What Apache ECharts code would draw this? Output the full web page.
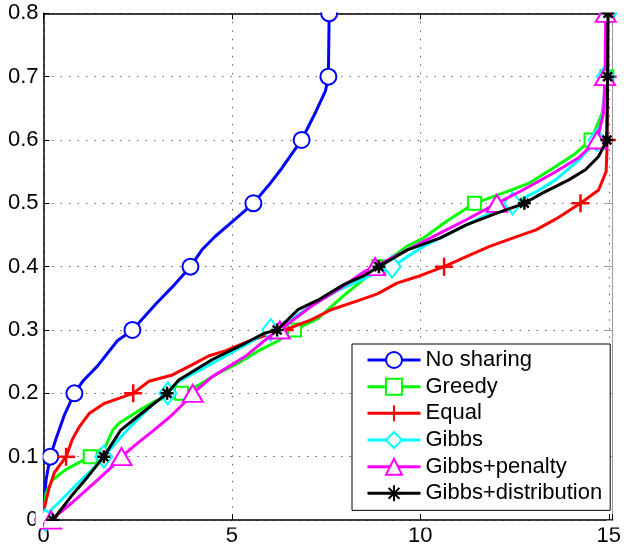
<!DOCTYPE html>
<html><head><meta charset="utf-8">
<script src="https://cdn.jsdelivr.net/npm/echarts@6/dist/echarts.min.js"></script>
<style>html,body{margin:0;padding:0;background:#fff}#c{width:624px;height:554px}</style>
</head><body><div id="c"></div>
<script>
// y levels where markers are drawn
const levels = [0, 0.1, 0.2, 0.3, 0.4, 0.5, 0.6, 0.7, 0.8];
const xTicks = [0, 5, 10, 15];

// No sharing
const noSharingMarks = [0.0, 0.18, 0.82, 2.36, 3.90, 5.57, 6.85, 7.56, 7.58];
const noSharingPath = [[0.02,0.032],[0.07,0.064],[0.33,0.128],[0.55,0.165],[1.04,0.219],[1.43,0.243],[1.96,0.283],[2.98,0.341],[3.42,0.368],[4.21,0.427],[4.56,0.448],[5.09,0.475],[5.97,0.528],[6.32,0.555],[7.23,0.645],[7.48,0.677]];

// Greedy
const greedyMarks = [0.0, 1.24, 3.66, 6.66, 8.9, 11.44, 14.53, 14.95, 14.97];
const greedyPath = [[0.02,0.02],[0.07,0.043],[0.25,0.064],[0.6,0.08],[0.95,0.091],[1.65,0.117],[1.84,0.142],[2.01,0.153],[2.54,0.173],[2.98,0.188],[3.25,0.193],[4.12,0.213],[4.56,0.229],[5.18,0.248],[5.70,0.267],[6.23,0.283],[7.28,0.318],[7.98,0.355],[8.5,0.38],[9.64,0.432],[10.08,0.445],[10.61,0.468],[10.96,0.482],[12.28,0.518],[12.89,0.532],[13.51,0.555],[14.1,0.578],[14.82,0.642],[14.91,0.679]];

// Equal
const equalMarks = [0.0, 0.60, 2.38, 6.40, 10.63, 14.25, 14.95, 14.97, 14.97];
const equalPath = [[0.03,0.021],[0.16,0.053],[0.29,0.075],[0.77,0.128],[0.95,0.147],[1.21,0.168],[1.61,0.184],[2.0,0.192],[2.8,0.219],[3.42,0.229],[3.94,0.245],[4.38,0.259],[4.82,0.267],[5.35,0.28],[5.88,0.291],[7.10,0.316],[7.63,0.332],[8.33,0.346],[8.86,0.357],[9.38,0.374],[9.91,0.384],[11.22,0.416],[11.84,0.432],[12.54,0.447],[13.07,0.458],[13.59,0.475],[14.73,0.521],[14.93,0.55],[14.95,0.58]];

// Gibbs
const gibbsMarks = [0.05, 1.60, 3.30, 6.03, 9.25, 12.45, 14.69, 14.91, 14.98];
const gibbsPath = [[0.12,0.011],[0.38,0.026],[0.91,0.058],[1.3,0.08],[2.14,0.137],[2.57,0.163],[2.93,0.184],[3.59,0.219],[4.47,0.247],[5.35,0.276],[5.85,0.294],[6.6,0.318],[7.10,0.338],[7.80,0.362],[8.51,0.381],[8.8,0.39],[10.08,0.432],[10.96,0.458],[11.84,0.484],[13.07,0.518],[13.59,0.537],[14.2,0.568],[14.86,0.647]];

// Gibbs+penalty
const penaltyMarks = [0.2, 2.07, 3.96, 6.27, 8.8, 12.03, 14.69, 14.9, 14.92];
const penaltyPath = [[0.73,0.026],[1.43,0.063],[1.87,0.087],[2.49,0.121],[2.93,0.142],[3.36,0.163],[3.72,0.184],[4.47,0.226],[5.35,0.258],[5.96,0.288],[7.10,0.337],[7.80,0.363],[8.51,0.392],[9.64,0.426],[10.52,0.453],[11.22,0.474],[12.72,0.521],[13.51,0.547],[14.2,0.572],[14.86,0.642]];

// Gibbs+distribution
const distMarks = [0.25, 1.60, 3.28, 6.2, 8.9, 12.76, 14.95, 14.97, 14.98];
const distPath = [[0.73,0.037],[1.17,0.068],[2.05,0.142],[2.49,0.163],[2.93,0.184],[3.59,0.221],[4.47,0.253],[5.35,0.279],[5.87,0.295],[6.75,0.332],[7.28,0.347],[7.98,0.372],[8.51,0.386],[9.64,0.426],[10.52,0.445],[11.22,0.466],[12.01,0.484],[13.24,0.516],[13.94,0.537],[14.38,0.553],[14.73,0.574],[14.91,0.595]];

function build(marks, path) {
  const pts = marks.map((x, i) => ({ v: [x, levels[i]], m: true }));
  path.forEach(p => pts.push({ v: p, m: false }));
  pts.sort((a, b) => (a.v[1] - b.v[1]) || (a.v[0] - b.v[0]));
  return pts.map(p => p.m ? { value: p.v } : { value: p.v, symbol: 'none' });
}

const PLUS = 'path://M5,0L5,10M0,5L10,5';
const STAR = 'path://M5,0L5,10M0,5L10,5M1.6,1.6L8.4,8.4M8.4,1.6L1.6,8.4';

const defs = [
  { name: 'No sharing', marks: noSharingMarks, path: noSharingPath, color: '#0000ff', symbol: 'emptyCircle', size: 16 },
  { name: 'Greedy', marks: greedyMarks, path: greedyPath, color: '#00ff00', symbol: 'emptyRect', size: 13 },
  { name: 'Equal', marks: equalMarks, path: equalPath, color: '#ff0000', symbol: PLUS, size: 18 },
  { name: 'Gibbs', marks: gibbsMarks, path: gibbsPath, color: '#00ffff', symbol: 'emptyDiamond', size: [17, 22] },
  { name: 'Gibbs+penalty', marks: penaltyMarks, path: penaltyPath, color: '#ff00ff', symbol: 'emptyTriangle', size: [20, 17] },
  { name: 'Gibbs+distribution', marks: distMarks, path: distPath, color: '#000000', symbol: STAR, size: 13 }
];

const series = defs.map((d, i) => ({
  type: 'line',
  name: d.name,
  data: build(d.marks, d.path),
  symbol: d.symbol,
  symbolSize: d.size,
  showSymbol: true,
  showAllSymbol: true,
  clip: true,
  lineStyle: { color: d.color, width: 3 },
  itemStyle: { color: d.color, borderColor: d.color, borderWidth: 2.5 },
  emphasis: { disabled: true },
  z: 2 + i
}));

const FONT = 'Liberation Sans, Arial, Helvetica, sans-serif';
const chart = echarts.init(document.getElementById('c'), null, { renderer: 'canvas' });
chart.setOption({
  animation: false,
  backgroundColor: '#fff',
  grid: { left: 43.5, top: 13.3, right: 6.9, bottom: 34, containLabel: false },
  xAxis: [{
    type: 'value', min: 0, max: 15.1, interval: 5, position: 'bottom',
    axisLine: { show: true, onZero: false, lineStyle: { color: '#000', width: 1.5 } },
    axisTick: { show: true, inside: true, length: 6, lineStyle: { color: '#000', width: 1 } },
    axisLabel: { color: '#000', fontSize: 22, fontFamily: FONT, margin: 5,
      formatter: v => (xTicks.indexOf(Math.round(v * 100) / 100) >= 0 ? String(v) : '') },
    splitLine: { show: true, lineStyle: { color: '#666', width: 1, type: [1.5, 7] } }
  }, {
    type: 'value', min: 0, max: 15.1, interval: 5, position: 'top',
    axisLine: { show: true, onZero: false, lineStyle: { color: '#000', width: 1.5 } },
    axisTick: { show: true, inside: true, length: 6, lineStyle: { color: '#000' } },
    axisLabel: { show: false }, splitLine: { show: false }
  }],
  yAxis: [{
    type: 'value', min: 0, max: 0.8, interval: 0.1, position: 'left',
    axisLine: { show: true, onZero: false, lineStyle: { color: '#000', width: 1.5 } },
    axisTick: { show: true, inside: true, length: 6, lineStyle: { color: '#000', width: 1 } },
    axisLabel: { color: '#000', fontSize: 22, fontFamily: FONT, margin: 5,
      formatter: v => (Math.abs(v) < 1e-9 ? '0' : v.toFixed(1)) },
    splitLine: { show: true, lineStyle: { color: '#666', width: 1, type: [1.5, 7] } }
  }, {
    type: 'value', min: 0, max: 0.8, interval: 0.1, position: 'right',
    axisLine: { show: true, onZero: false, lineStyle: { color: '#999', width: 1 } },
    axisTick: { show: true, inside: true, length: 6, lineStyle: { color: '#999' } },
    axisLabel: { show: false }, splitLine: { show: false }
  }],
  legend: {
    orient: 'vertical', left: 352, top: 344,
    padding: [5, 8, 6, 14], itemGap: 4.67, itemWidth: 53, itemHeight: 20,
    backgroundColor: '#fff', borderColor: '#000', borderWidth: 1,
    selectedMode: false,
    lineStyle: { width: 3 },
    textStyle: { fontSize: 22, fontFamily: FONT, color: '#000', lineHeight: 22 },
    data: defs.map(d => d.name)
  },
  graphic: [
    { type: 'rect', z: 100, silent: true, shape: { x: 44.5, y: 0, width: 580, height: 12.4 }, style: { fill: '#fff' } },
    { type: 'rect', z: 100, silent: true, shape: { x: 44.5, y: 520.9, width: 580, height: 6.5 }, style: { fill: '#fff' } },
    { type: 'rect', z: 100, silent: true, shape: { x: 39, y: 0, width: 3.7, height: 528 }, style: { fill: '#fff' } },
    { type: 'rect', z: 100, silent: true, shape: { x: 35.5, y: 505, width: 7.2, height: 23 }, style: { fill: '#fff' } },
    { type: 'rect', z: 100, silent: true, shape: { x: 617.8, y: 0, width: 10, height: 521 }, style: { fill: '#fff' } }
  ],
  series: series
});
</script></body></html>
